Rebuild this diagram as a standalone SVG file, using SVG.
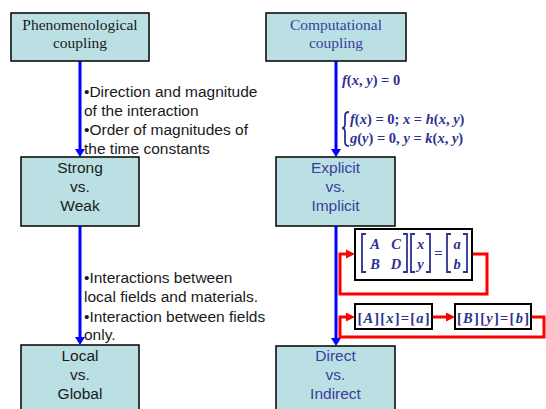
<svg xmlns="http://www.w3.org/2000/svg" width="546" height="409" viewBox="0 0 546 409">
<defs>
<style>
.box{fill:#bae0e3;stroke:#000;stroke-width:1.5}
.mbox{fill:#fff;stroke:#000;stroke-width:2}
.serif{font-family:"Liberation Serif","Times New Roman",serif;font-size:15.5px;text-anchor:middle}
.sans{font-family:"Liberation Sans",Arial,sans-serif;font-size:15.5px}
.ctr{text-anchor:middle}
.blk{fill:#1a1a1a}
.ind{fill:#3c3c9c}
.math{font-family:"Liberation Serif","Times New Roman",serif;font-weight:bold;font-style:italic;font-size:14.5px;fill:#2e3192}
.up{font-style:normal}
.blue{stroke:#0000ff;stroke-width:3;fill:none}
.red{stroke:#ff0000;stroke-width:3;fill:none}
.brk{stroke:#2e3192;stroke-width:1.8;fill:none}
</style>
</defs>

<g id="connectors">
<line class="blue" x1="80" y1="61" x2="80" y2="150"/>
<path d="M75,149 L85,149 L80,157 Z" fill="#0000ff"/>
<line class="blue" x1="80" y1="226" x2="80" y2="338"/>
<path d="M75,337 L85,337 L80,345 Z" fill="#0000ff"/>
<line class="blue" x1="336" y1="61" x2="336" y2="150"/>
<path d="M331,149 L341,149 L336,157 Z" fill="#0000ff"/>
<line class="blue" x1="336" y1="226" x2="336" y2="339"/>
<path d="M331,338 L341,338 L336,346 Z" fill="#0000ff"/>
<polyline class="red" points="472,254 487,254 487,294 340,294 340,254 347,254"/>
<path d="M346,249.5 L355,254 L346,258.5 Z" fill="#ff0000"/>
<line class="red" x1="432" y1="317" x2="447" y2="317"/>
<path d="M446,312.5 L455,317 L446,321.5 Z" fill="#ff0000"/>
<polyline class="red" points="531,317 544,317 544,337 340,337 340,317 347,317"/>
<path d="M346,312.5 L355,317 L346,321.5 Z" fill="#ff0000"/>
</g>

<g id="phenomenological">
<rect class="box" x="11" y="13" width="138" height="48"/>
<text class="serif blk" x="80" y="30">Phenomenological</text>
<text class="serif blk" x="80" y="48">coupling</text>
</g>

<g id="label-1">
<text class="sans blk" x="84" y="97">•Direction and magnitude</text>
<text class="sans blk" x="84" y="116">of the interaction</text>
<text class="sans blk" x="84" y="135">•Order of magnitudes of</text>
<text class="sans blk" x="84" y="154">the time constants</text>
</g>

<g id="strong">
<rect class="box" x="21" y="157" width="118" height="69"/>
<text class="sans blk ctr" x="80" y="173">Strong</text>
<text class="sans blk ctr" x="80" y="192">vs.</text>
<text class="sans blk ctr" x="80" y="211">Weak</text>
</g>

<g id="label-2">
<text class="sans blk" x="84" y="283">•Interactions between</text>
<text class="sans blk" x="84" y="302">local fields and materials.</text>
<text class="sans blk" x="84" y="322">•Interaction between fields</text>
<text class="sans blk" x="84" y="340">only.</text>
</g>

<g id="local">
<rect class="box" x="21" y="345" width="118" height="70"/>
<text class="sans blk ctr" x="80" y="361">Local</text>
<text class="sans blk ctr" x="80" y="380">vs.</text>
<text class="sans blk ctr" x="80" y="399">Global</text>
</g>

<g id="computational">
<rect class="box" x="266" y="13" width="140" height="48"/>
<text class="serif ind" x="336" y="30">Computational</text>
<text class="serif ind" x="336" y="48">coupling</text>
</g>

<g id="equations">
<text class="math" x="342" y="85" font-size="15">f<tspan class="up">(</tspan>x<tspan class="up">, </tspan>y<tspan class="up">) = 0</tspan></text>
<path class="brk" d="M349,112 Q345,112 345,116 L345,124 Q345,128 342,128 Q345,128 345,132 L345,142 Q345,146 349,146"/>
<text class="math" x="350" y="124">f<tspan class="up">(</tspan>x<tspan class="up">) = 0; </tspan>x<tspan class="up"> = </tspan>h<tspan class="up">(</tspan>x<tspan class="up">, </tspan>y<tspan class="up">)</tspan></text>
<text class="math" x="350" y="143">g<tspan class="up">(</tspan>y<tspan class="up">) = 0, </tspan>y<tspan class="up"> = </tspan>k<tspan class="up">(</tspan>x<tspan class="up">, </tspan>y<tspan class="up">)</tspan></text>
</g>

<g id="explicit">
<rect class="box" x="276" y="157" width="119" height="69"/>
<text class="sans ind ctr" x="335.5" y="173">Explicit</text>
<text class="sans ind ctr" x="335.5" y="192">vs.</text>
<text class="sans ind ctr" x="335.5" y="211">Implicit</text>
</g>

<g id="matrix-system">
<rect class="mbox" x="355" y="229" width="117" height="51"/>
<path class="brk" d="M366,234 L362,234 L362,272 L366,272"/>
<path class="brk" d="M403,234 L407,234 L407,272 L403,272"/>
<path class="brk" d="M415,234 L411,234 L411,272 L415,272"/>
<path class="brk" d="M426,234 L430,234 L430,272 L426,272"/>
<path class="brk" d="M451,234 L447,234 L447,272 L451,272"/>
<path class="brk" d="M463,234 L467,234 L467,272 L463,272"/>
<text class="math" x="375" y="249" text-anchor="middle" font-size="16">A</text>
<text class="math" x="396" y="249" text-anchor="middle" font-size="16">C</text>
<text class="math" x="375" y="269" text-anchor="middle" font-size="16">B</text>
<text class="math" x="396" y="269" text-anchor="middle" font-size="16">D</text>
<text class="math" x="420.5" y="249" text-anchor="middle" font-size="16">x</text>
<text class="math" x="420.5" y="269" text-anchor="middle" font-size="16">y</text>
<text class="math up" x="438.5" y="258" text-anchor="middle" font-size="16">=</text>
<text class="math" x="457" y="249" text-anchor="middle" font-size="16">a</text>
<text class="math" x="457" y="269" text-anchor="middle" font-size="16">b</text>
</g>

<g id="system-a">
<rect class="mbox" x="355" y="304" width="77" height="25"/>
<text class="math" x="393.5" y="323" text-anchor="middle" font-size="18" textLength="72" lengthAdjust="spacing"><tspan class="up">[</tspan>A<tspan class="up">][</tspan>x<tspan class="up">]=[</tspan>a<tspan class="up">]</tspan></text>
</g>

<g id="system-b">
<rect class="mbox" x="455" y="304" width="76" height="25"/>
<text class="math" x="493" y="323" text-anchor="middle" font-size="18" textLength="72" lengthAdjust="spacing"><tspan class="up">[</tspan>B<tspan class="up">][</tspan>y<tspan class="up">]=[</tspan>b<tspan class="up">]</tspan></text>
</g>

<g id="direct">
<rect class="box" x="276" y="346" width="119" height="70"/>
<text class="sans ind ctr" x="335.5" y="361">Direct</text>
<text class="sans ind ctr" x="335.5" y="380">vs.</text>
<text class="sans ind ctr" x="335.5" y="399">Indirect</text>
</g>
</svg>
